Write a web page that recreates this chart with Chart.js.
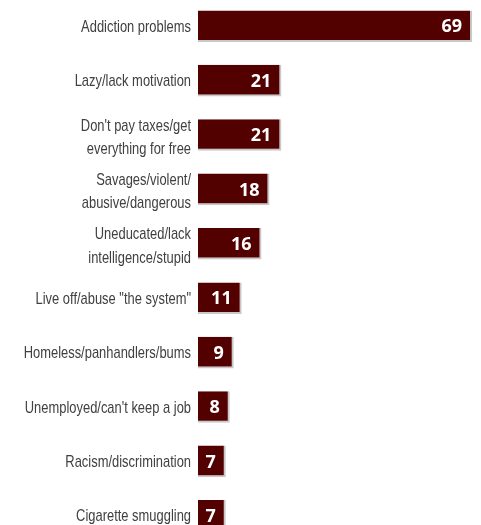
<!DOCTYPE html>
<html>
<head>
<meta charset="utf-8">
<title>Perceptions</title>
<script src="https://cdn.jsdelivr.net/npm/chart.js@4.4.1/dist/chart.umd.min.js"></script>
<style>
    html, body { margin: 0; padding: 0; background: #fff; overflow: hidden; }
    #wrap { position: relative; top: -1px; width: 481px; height: 544px; }
</style>
</head>
<body>
<div id="wrap"><canvas id="barChart"></canvas></div>
<script>
// categories and values
const categories = [
    'Addiction problems',
    'Lazy/lack motivation',
    ["Don't pay taxes/get", 'everything for free'],
    ['Savages/violent/', 'abusive/dangerous'],
    ['Uneducated/lack', 'intelligence/stupid'],
    'Live off/abuse "the system"',
    'Homeless/panhandlers/bums',
    "Unemployed/can't keep a job",
    'Racism/discrimination',
    'Cigarette smuggling'
];
const values = [69, 21, 21, 18, 16, 11, 9, 8, 7, 7];
const xMax = 70;

// category labels in a narrow face (condensed look of the original)
const categoryLabels = {
    id: 'categoryLabels',
    afterDraw(chart) {
        const ctx = chart.ctx;
        const yScale = chart.scales.y;
        const right = yScale.right - 7;
        ctx.save();
        ctx.fillStyle = '#404040';
        ctx.font = '17px "Liberation Sans", Arial, sans-serif';
        ctx.textAlign = 'right';
        ctx.textBaseline = 'alphabetic';
        categories.forEach((label, i) => {
            const y = yScale.getPixelForTick(i);
            const lines = Array.isArray(label) ? label : [label];
            const first = lines.length > 1 ? y - 4.5 : y + 5.5;
            lines.forEach((line, k) => {
                ctx.save();
                ctx.translate(right, first + k * 23.5);
                ctx.scale(0.76, 1);
                ctx.fillText(line, 0, 0);
                ctx.restore();
            });
        });
        ctx.restore();
    }
};

// draws the value at the inside end of each bar
const valueLabels = {
    id: 'valueLabels',
    afterDatasetsDraw(chart) {
        const ctx = chart.ctx;
        const meta = chart.getDatasetMeta(0);
        ctx.save();
        ctx.fillStyle = '#ffffff';
        ctx.font = 'bold 18px "Open Sans", sans-serif';
        ctx.textAlign = 'right';
        ctx.textBaseline = 'middle';
        meta.data.forEach((bar, i) => {
            ctx.fillText(String(values[i]), bar.x - 10, bar.y + 1);
        });
        ctx.restore();
    }
};

const ctx = document.getElementById('barChart');
new Chart(ctx, {
    type: 'bar',
    data: {
        labels: categories,
        datasets: [{
            data: values,
            backgroundColor: '#530000',
            borderColor: '#c8c8c8',
            borderWidth: { top: 0, left: 0, right: 2, bottom: 2 },
            borderSkipped: false,
            barPercentage: 0.58,
            categoryPercentage: 1
        }]
    },
    options: {
        indexAxis: 'y',
        responsive: true,
        maintainAspectRatio: false,
        animation: false,
        layout: { padding: { top: 0, bottom: 0, left: 0, right: 5 } },
        plugins: {
            legend: { display: false },
            tooltip: { enabled: false }
        },
        scales: {
            x: {
                display: false,
                min: 0,
                max: xMax
            },
            y: {
                grid: { display: false, drawTicks: false },
                border: { display: false },
                ticks: { display: false },
                afterFit: function(scale) {
                    scale.width = 198;
                    scale.paddingTop = 0;
                    scale.paddingBottom = 0;
                }
            }
        }
    },
    plugins: [valueLabels, categoryLabels]
});
</script>
</body>
</html>
